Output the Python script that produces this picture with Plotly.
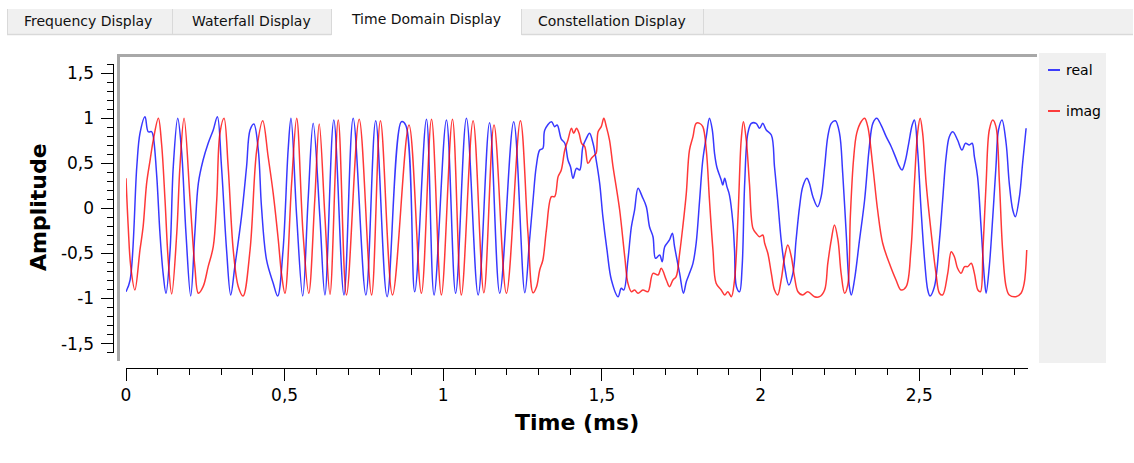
import plotly.graph_objects as go

# ---- signal samples (time in ms, amplitude) ----
real_t = [0.000, 0.013, 0.034, 0.044, 0.060, 0.070, 0.081, 0.086, 0.097, 0.107, 0.117, 0.126,
          0.139, 0.149, 0.163, 0.175, 0.189, 0.204, 0.217, 0.228, 0.243, 0.259, 0.275, 0.288,
          0.301, 0.317, 0.330, 0.343, 0.364, 0.380, 0.391, 0.403, 0.417, 0.427, 0.443, 0.464,
          0.478, 0.495, 0.511, 0.520, 0.538, 0.557, 0.574, 0.590, 0.611, 0.627, 0.655, 0.687,
          0.716, 0.756, 0.787, 0.823, 0.868, 0.882, 0.910, 0.947, 0.971, 1.010, 1.039, 1.073,
          1.110, 1.146, 1.178, 1.222, 1.257, 1.272, 1.283, 1.293, 1.304, 1.314, 1.320, 1.341,
          1.351, 1.359, 1.372, 1.383, 1.393, 1.401, 1.409, 1.420, 1.430, 1.440, 1.451, 1.461,
          1.472, 1.482, 1.493, 1.503, 1.516, 1.530, 1.551, 1.561, 1.569, 1.582, 1.593, 1.603,
          1.614, 1.627, 1.640, 1.650, 1.661, 1.669, 1.682, 1.690, 1.698, 1.713, 1.722, 1.729,
          1.745, 1.757, 1.766, 1.776, 1.787, 1.797, 1.808, 1.818, 1.829, 1.839, 1.848, 1.855,
          1.862, 1.876, 1.881, 1.887, 1.894, 1.902, 1.913, 1.918, 1.924, 1.934, 1.942, 1.950,
          1.960, 1.971, 1.986, 1.997, 2.007, 2.018, 2.034, 2.044, 2.054, 2.065, 2.076, 2.089,
          2.102, 2.112, 2.123, 2.133, 2.146, 2.154, 2.165, 2.180, 2.191, 2.202, 2.212, 2.223,
          2.236, 2.249, 2.259, 2.270, 2.280, 2.286, 2.296, 2.312, 2.328, 2.343, 2.354, 2.366,
          2.380, 2.396, 2.412, 2.427, 2.438, 2.446, 2.457, 2.467, 2.478, 2.485, 2.495, 2.506,
          2.517, 2.527, 2.534, 2.548, 2.564, 2.574, 2.585, 2.595, 2.606, 2.621, 2.635, 2.646,
          2.658, 2.667, 2.674, 2.684, 2.695, 2.706, 2.711, 2.721, 2.732, 2.742, 2.750, 2.761,
          2.774, 2.784, 2.795, 2.803, 2.816, 2.826, 2.837]
real_v = [-0.925, -0.795, 0.461, 0.831, 1.016, 0.849, 0.849, 0.794, 0.351, -0.277, -0.721, -0.942,
          -0.462, 0.461, 0.998, 0.646, -0.277, -0.972, -0.277, 0.277, 0.535, 0.721, 0.868, 1.016,
          0.461, -0.462, -0.961, -0.647, -0.093, 0.461, 0.868, 0.935, 0.646, 0.018, -0.573, -0.831,
          -0.972, -0.462, 0.646, 0.998, -0.093, -0.972, 0.092, 0.942, -0.093, -0.961, 0.978, -0.961,
          0.998, -0.961, 0.971, -0.980, 0.960, 0.920, -0.925, 0.987, -0.961, 0.979, -0.942, 0.998,
          -0.961, 0.949, -0.942, 0.960, -0.936, -0.351, 0.092, 0.461, 0.646, 0.665, 0.868, 0.960,
          0.905, 0.923, 0.768, 0.721, 0.535, 0.461, 0.333, 0.443, 0.425, 0.683, 0.776, 0.831,
          0.721, 0.535, 0.277, -0.093, -0.462, -0.795, -0.980, -0.887, -0.906, -0.573, -0.204, -0.019,
          0.222, 0.129, 0.018, -0.204, -0.315, -0.554, -0.518, -0.592, -0.426, -0.351, -0.277, -0.426,
          -0.721, -0.942, -0.814, -0.721, -0.610, -0.388, 0.092, 0.535, 0.794, 0.998, 0.868, 0.610,
          0.461, 0.314, 0.258, 0.333, 0.240, 0.147, -0.166, -0.462, -0.869, -0.925, -0.647, 0.277,
          0.831, 0.942, 0.942, 0.887, 0.942, 0.868, 0.813, 0.461, 0.092, -0.351, -0.647, -0.850,
          -0.721, -0.351, 0.018, 0.240, 0.333, 0.277, 0.129, 0.018, 0.129, 0.461, 0.794, 0.942,
          0.971, 0.831, 0.388, -0.277, -0.869, -0.961, -0.795, -0.351, 0.092, 0.683, 0.942, 0.998,
          0.923, 0.794, 0.683, 0.554, 0.461, 0.425, 0.535, 0.721, 0.923, 0.979, 0.646, -0.019,
          -0.573, -0.906, -0.972, -0.869, -0.351, 0.092, 0.572, 0.794, 0.849, 0.757, 0.646, 0.721,
          0.702, 0.721, 0.572, 0.351, -0.204, -0.795, -0.942, -0.647, -0.093, 0.461, 0.868, 0.979,
          0.721, 0.277, -0.019, -0.093, 0.129, 0.499, 0.887]

imag_t = [0.000, 0.007, 0.015, 0.028, 0.044, 0.054, 0.065, 0.076, 0.086, 0.102, 0.112, 0.123,
          0.133, 0.144, 0.160, 0.170, 0.183, 0.202, 0.217, 0.228, 0.243, 0.259, 0.275, 0.286,
          0.296, 0.309, 0.322, 0.338, 0.354, 0.369, 0.391, 0.412, 0.431, 0.448, 0.464, 0.480,
          0.490, 0.501, 0.522, 0.538, 0.558, 0.576, 0.595, 0.609, 0.627, 0.643, 0.669, 0.695,
          0.735, 0.774, 0.802, 0.840, 0.892, 0.931, 0.963, 0.994, 1.029, 1.057, 1.094, 1.128,
          1.160, 1.199, 1.243, 1.267, 1.283, 1.294, 1.304, 1.314, 1.325, 1.341, 1.351, 1.362,
          1.372, 1.383, 1.393, 1.404, 1.411, 1.420, 1.428, 1.436, 1.446, 1.456, 1.467, 1.477,
          1.482, 1.488, 1.498, 1.506, 1.514, 1.524, 1.535, 1.545, 1.556, 1.572, 1.582, 1.593,
          1.603, 1.614, 1.629, 1.645, 1.661, 1.677, 1.687, 1.703, 1.713, 1.724, 1.734, 1.745,
          1.755, 1.766, 1.776, 1.787, 1.797, 1.808, 1.818, 1.829, 1.839, 1.850, 1.860, 1.876,
          1.887, 1.897, 1.908, 1.918, 1.929, 1.939, 1.946, 1.955, 1.965, 1.976, 1.986, 1.997,
          2.007, 2.013, 2.023, 2.034, 2.044, 2.054, 2.065, 2.076, 2.086, 2.097, 2.107, 2.118,
          2.133, 2.149, 2.170, 2.186, 2.202, 2.212, 2.223, 2.233, 2.244, 2.254, 2.265, 2.275,
          2.283, 2.293, 2.303, 2.317, 2.328, 2.338, 2.354, 2.369, 2.385, 2.406, 2.427, 2.443,
          2.459, 2.474, 2.485, 2.495, 2.503, 2.511, 2.522, 2.538, 2.553, 2.564, 2.574, 2.590,
          2.601, 2.611, 2.621, 2.632, 2.643, 2.653, 2.664, 2.674, 2.685, 2.693, 2.701, 2.711,
          2.721, 2.732, 2.742, 2.753, 2.763, 2.774, 2.784, 2.805, 2.821, 2.831, 2.839]
imag_v = [0.333, -0.204, -0.647, -0.906, -0.462, -0.204, 0.277, 0.535, 0.757, 0.998, 0.721, 0.092,
          -0.573, -0.950, -0.277, 0.461, 0.998, 0.092, -0.647, -0.942, -0.869, -0.647, -0.426, 0.092,
          0.831, 0.998, 0.461, -0.462, -0.869, -0.972, -0.462, 0.646, 0.971, 0.572, 0.166, -0.351,
          -0.721, -0.942, 0.277, 0.998, -0.277, -0.942, 0.092, 0.935, -0.093, -0.953, 0.979, -0.961,
          0.987, -0.961, 0.971, -0.961, 0.923, -0.942, 0.987, -0.961, 0.987, -0.961, 0.971, -0.936,
          0.923, -0.942, 0.971, -0.277, -0.936, -0.869, -0.684, -0.573, -0.241, 0.129, 0.129, 0.351,
          0.425, 0.646, 0.757, 0.887, 0.831, 0.887, 0.831, 0.721, 0.683, 0.499, 0.554, 0.591,
          0.610, 0.849, 0.905, 0.998, 0.905, 0.757, 0.461, 0.240, -0.019, -0.537, -0.831, -0.925,
          -0.906, -0.942, -0.906, -0.925, -0.721, -0.740, -0.665, -0.795, -0.869, -0.795, -0.758, -0.499,
          -0.204, 0.166, 0.646, 0.794, 0.942, 0.942, 0.905, 0.646, 0.092, -0.462, -0.831, -0.906,
          -0.961, -0.925, -0.980, -0.795, -0.093, 0.757, 0.960, 0.757, 0.277, -0.222, -0.277, -0.315,
          -0.296, -0.388, -0.499, -0.721, -0.906, -0.961, -0.795, -0.537, -0.407, -0.537, -0.758, -0.925,
          -0.961, -0.925, -0.980, -0.980, -0.906, -0.610, -0.351, -0.185, -0.351, -0.721, -0.942, -0.850,
          -0.093, 0.535, 0.831, 0.960, 0.998, 0.905, 0.461, -0.019, -0.388, -0.610, -0.795, -0.906,
          -0.869, -0.462, 0.277, 0.831, 0.998, 0.831, 0.277, -0.277, -0.721, -0.942, -0.961, -0.721,
          -0.481, -0.537, -0.665, -0.721, -0.647, -0.647, -0.610, -0.721, -0.906, -0.925, -0.462, 0.277,
          0.868, 0.979, 0.905, 0.277, -0.462, -0.869, -0.961, -0.980, -0.942, -0.831, -0.462]

# ---- axis ticks ----
x_ticks = [0, 0.5, 1, 1.5, 2, 2.5]
x_tick_text = ["0", "0,5", "1", "1,5", "2", "2,5"]
y_ticks = [-1.5, -1, -0.5, 0, 0.5, 1, 1.5]
y_tick_text = ["-1,5", "-1", "-0,5", "0", "0,5", "1", "1,5"]

series_names = ["real", "imag"]
tab_names = ["Frequency Display", "Waterfall Display", "Time Domain Display", "Constellation Display"]

W, H = 1134, 463
FONT = "DejaVu Sans"
BLUE = "rgba(0,0,255,0.78)"
RED = "rgba(255,0,0,0.78)"


def px(x):
    return x / W


def py(y):
    return 1 - y / H


fig = go.Figure()
fig.add_trace(go.Scatter(x=real_t, y=real_v, mode="lines", name=series_names[0],
                         line=dict(color=BLUE, width=1.5, shape="spline", smoothing=1.0),
                         showlegend=False))
fig.add_trace(go.Scatter(x=imag_t, y=imag_v, mode="lines", name=series_names[1],
                         line=dict(color=RED, width=1.5, shape="spline", smoothing=1.0),
                         showlegend=False))

shapes = []
annotations = []

# tab bar
shapes.append(dict(type="rect", xref="paper", yref="paper", x0=px(7), x1=px(1133), y0=py(34), y1=py(9),
                   fillcolor="#f0f0f0", line=dict(width=0), layer="below"))
shapes.append(dict(type="line", xref="paper", yref="paper", x0=px(7), x1=px(1133), y0=py(34.5), y1=py(34.5),
                   line=dict(color="#d9d9d9", width=1.5)))
shapes.append(dict(type="rect", xref="paper", yref="paper", x0=px(331.5), x1=px(521.5), y0=py(36), y1=py(7),
                   fillcolor="#ffffff", line=dict(width=0)))
for sx in [7.5, 172.5, 331.5, 521.5, 703.5]:
    shapes.append(dict(type="line", xref="paper", yref="paper", x0=px(sx), x1=px(sx), y0=py(35), y1=py(9),
                       line=dict(color="#d9d9d9", width=1)))
tab_centres = [(88, 21), (251, 21), (426, 19), (612, 21)]
for name, (cx, cy) in zip(tab_names, tab_centres):
    annotations.append(dict(text=name, x=px(cx), y=py(cy), xref="paper", yref="paper", showarrow=False,
                            xanchor="center", yanchor="middle", font=dict(family=FONT, size=14, color="#111111")))

# canvas frame (sunken look: grey top and left edges)
shapes.append(dict(type="rect", xref="paper", yref="paper", x0=px(117), x1=px(120), y0=py(361), y1=py(54),
                   fillcolor="#a8a8a8", line=dict(width=0)))
shapes.append(dict(type="rect", xref="paper", yref="paper", x0=px(117), x1=px(1037), y0=py(57), y1=py(54),
                   fillcolor="#a8a8a8", line=dict(width=0)))

# legend panel
shapes.append(dict(type="rect", xref="paper", yref="paper", x0=px(1039), x1=px(1106), y0=py(363), y1=py(53),
                   fillcolor="#f0f0f0", line=dict(width=0)))
for name, col, ly in [(series_names[0], "#0000ff", 70), (series_names[1], "#ff0000", 111)]:
    shapes.append(dict(type="line", xref="paper", yref="paper", x0=px(1048), x1=px(1060), y0=py(ly), y1=py(ly),
                       line=dict(color=col, width=1.5)))
    annotations.append(dict(text=name, x=px(1064), y=py(ly), xref="paper", yref="paper", showarrow=False,
                            xanchor="left", yanchor="middle", font=dict(family=FONT, size=14, color="#000000")))

# axis titles
annotations.append(dict(text="Amplitude", x=px(38), y=py(207), xref="paper", yref="paper", showarrow=False,
                        textangle=-90, xanchor="center", yanchor="middle",
                        font=dict(family=FONT, size=22, color="#000000", weight="bold")))
annotations.append(dict(text="Time (ms)", x=px(577), y=py(422), xref="paper", yref="paper", showarrow=False,
                        xanchor="center", yanchor="middle",
                        font=dict(family=FONT, size=22, color="#000000", weight="bold")))

fig.update_layout(
    width=W, height=H,
    margin=dict(l=0, r=0, t=0, b=0, pad=0, autoexpand=False),
    paper_bgcolor="#ffffff", plot_bgcolor="#ffffff",
    shapes=shapes, annotations=annotations,
    showlegend=False,
    xaxis=dict(domain=[px(126), px(1028)], range=[0, 2.843], anchor="free", position=py(367.5),
               automargin=False,
               showline=True, linecolor="#000000", linewidth=1, showgrid=False, zeroline=False,
               ticks="outside", ticklen=12, tickwidth=1, tickcolor="#000000",
               tickvals=x_ticks, ticktext=x_tick_text,
               tickfont=dict(family=FONT, size=17, color="#000000"),
               minor=dict(dtick=0.1, tick0=0, ticks="outside", ticklen=6, tickwidth=1, tickcolor="#000000",
                          showgrid=False)),
    yaxis=dict(domain=[py(352.6), py(64)], range=[-1.6, 1.6], anchor="free", position=px(112.5),
               automargin=False, ticklabelstandoff=3,
               showline=True, linecolor="#000000", linewidth=1, showgrid=False, zeroline=False,
               ticks="outside", ticklen=12, tickwidth=1, tickcolor="#000000",
               tickvals=y_ticks, ticktext=y_tick_text,
               tickfont=dict(family=FONT, size=17, color="#000000"),
               minor=dict(dtick=0.1, tick0=0, ticks="outside", ticklen=6, tickwidth=1, tickcolor="#000000",
                          showgrid=False)),
)

fig.write_html("out.html")
